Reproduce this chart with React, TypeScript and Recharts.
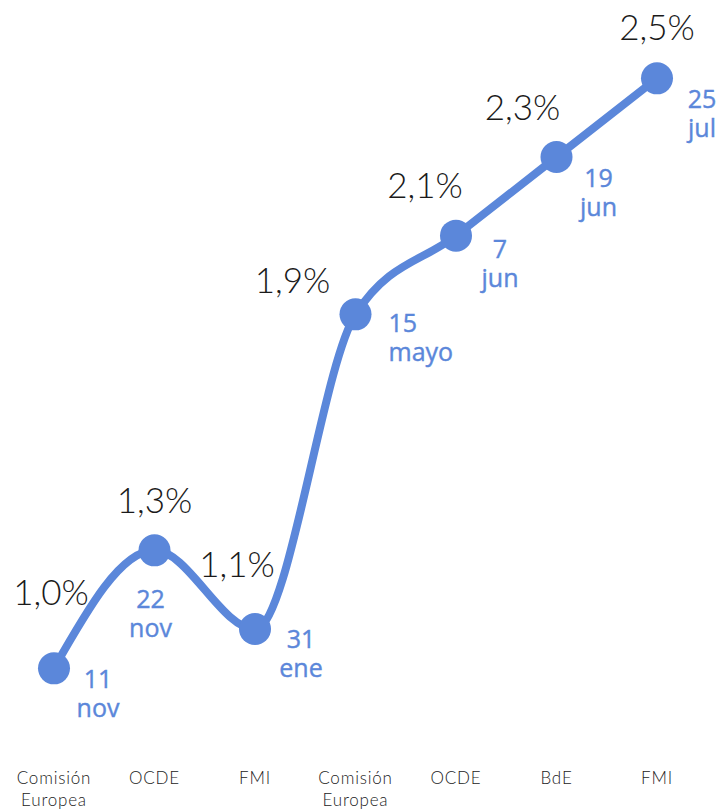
import React from "react";
import { LineChart, Line, XAxis, YAxis, LabelList } from "recharts";

const sources = ["Comisión Europea", "OCDE", "FMI", "Comisión Europea", "OCDE", "BdE", "FMI"];
const growth = [1.0, 1.3, 1.1, 1.9, 2.1, 2.3, 2.5];
const dayLabels = ["11", "22", "31", "15", "7", "19", "25"];
const monthLabels = ["nov", "nov", "ene", "mayo", "jun", "jun", "jul"];

const data = sources.map((s, i) => ({
  source: s,
  value: growth[i],
  day: dayLabels[i],
  month: monthLabels[i],
}));

// label layout (offsets relative to each point)
const valueOffsets = [
  [-3, -63],
  [0, -37],
  [-18, -52],
  [-63, -21],
  [-31, -38],
  [-34, -37],
  [0, -38],
];
const dateOffsets = [
  [44, 20],
  [-4, 58],
  [46, 19],
  [33, 18],
  [44, 22],
  [42, 30],
  [45, 30],
];
const dateAnchors = ["middle", "middle", "middle", "start", "middle", "middle", "middle"];

const BLUE = "#5B87DA";
const LIGHT_FONT = "'Lato', 'Open Sans', sans-serif";
const FONT = "'Open Sans', 'Lato', sans-serif";

const ValueLabel = (props: any) => {
  const { x, y, index, value } = props;
  const [dx, dy] = valueOffsets[index];
  const txt = Number(value).toFixed(1).replace(".", ",") + "%";
  return (
    <text x={x + dx} y={y + dy} textAnchor="middle" fontFamily={LIGHT_FONT} fontWeight={300} fontSize={35} fill="#1a1a1a">
      {txt}
    </text>
  );
};

const DateLabel = (props: any) => {
  const { x, y, index } = props;
  const [dx, dy] = dateOffsets[index];
  const anchor = dateAnchors[index];
  const xx = x + dx;
  return (
    <text textAnchor={anchor} fontFamily={FONT} fontWeight={400} fontSize={25} fill={BLUE} stroke={BLUE} strokeWidth={0.4}>
      <tspan x={xx} y={y + dy}>{dayLabels[index]}</tspan>
      <tspan x={xx} y={y + dy + 29}>{monthLabels[index]}</tspan>
    </text>
  );
};

const SourceTick = (props: any) => {
  const { x, y, payload } = props;
  const lines = String(payload.value).split(" ");
  return (
    <text textAnchor="middle" fontFamily={LIGHT_FONT} fontWeight={300} fontSize={17} fill="#222" letterSpacing={0.8}>
      {lines.map((l: string, i: number) => (
        <tspan key={i} x={x} y={y + 37 + i * 22}>{l}</tspan>
      ))}
    </text>
  );
};

export default function App() {
  return (
    <div style={{ position: "absolute", left: 0, top: 0, width: 720, height: 809, background: "#fff" }}>
      <LineChart width={720} height={809} data={data} margin={{ top: 39, right: 63, left: 54, bottom: 0 }}>
        <XAxis
          dataKey="source"
          axisLine={false}
          tickLine={false}
          tickSize={0}
          tickMargin={0}
          height={62}
          interval={0}
          tick={<SourceTick />}
        />
        <YAxis hide domain={[0.8, 2.6]} type="number" />
        <Line
          type="monotone"
          dataKey="value"
          stroke={BLUE}
          strokeWidth={8}
          dot={{ r: 16, fill: BLUE, stroke: "none" }}
          activeDot={false}
          isAnimationActive={false}
        >
          <LabelList dataKey="value" content={<ValueLabel />} />
          <LabelList dataKey="day" content={<DateLabel />} />
        </Line>
      </LineChart>
    </div>
  );
}
